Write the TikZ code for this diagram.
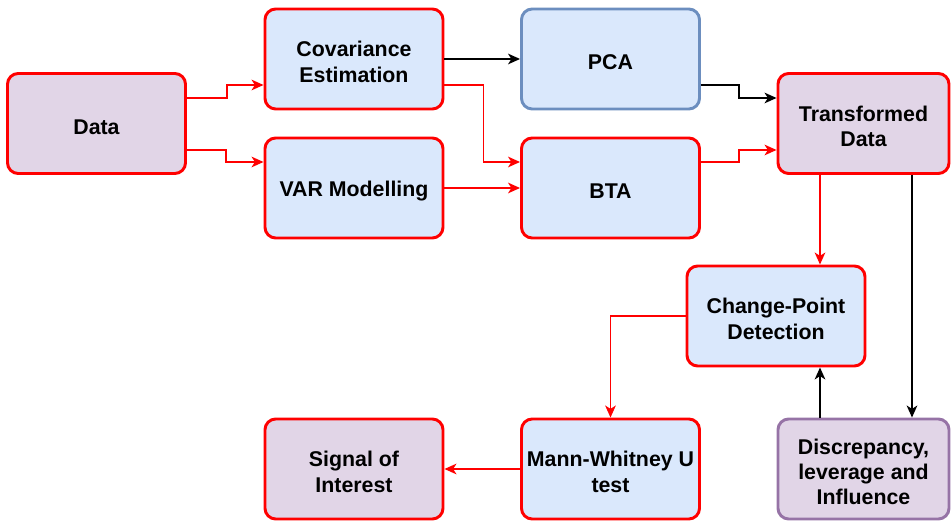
\documentclass[tikz,border=0pt]{standalone}
\usepackage{fontspec}
\setmainfont{Liberation Sans}
\usetikzlibrary{arrows.meta,calc}
\definecolor{bfill}{HTML}{DAE8FC}
\definecolor{pfill}{HTML}{E1D5E7}
\definecolor{bline}{HTML}{6C8EBF}
\definecolor{pline}{HTML}{9673A6}
\definecolor{rline}{HTML}{FF0000}
\newcommand{\tstrut}{\rule{0pt}{16pt}}
\tikzset{
  box/.style={draw=rline, line width=2.2pt, rounded corners=8pt, minimum width=178*0.75pt, minimum height=100*0.75pt,
    font=\fontsize{16}{19}\selectfont\bfseries, align=center, inner sep=0pt},
  bbox/.style={box, fill=bfill},
  pbox/.style={box, fill=pfill},
  rarr/.style={draw=rline, line width=1.1pt, -{Stealth[length=9pt,width=8pt,inset=2.5pt]}},
  karr/.style={draw=black, line width=1.1pt, -{Stealth[length=9pt,width=8pt,inset=2.5pt]}}
}
\begin{document}
\begin{tikzpicture}[x=0.75pt,y=-0.75pt]
\useasboundingbox (0,0) rectangle (951,523);
\node[pbox] (data) at (96.5,123.5) {\tstrut Data};
\node[bbox] (cov) at (354,59) {\tstrut Covariance\\Estimation};
\node[bbox] (var) at (354,188) {\tstrut VAR Modelling};
\node[bbox, draw=bline] (pca) at (610.5,59) {\tstrut PCA};
\node[bbox] (bta) at (610.5,188) {\tstrut BTA};
\node[pbox, minimum width=171*0.75pt] (trans) at (863.5,123.5) {\tstrut Transformed\\Data};
\node[bbox] (cpd) at (776,316) {\tstrut Change-Point\\Detection};
\node[pbox, draw=pline, minimum width=171*0.75pt] (disc) at (863.5,469) {\tstrut Discrepancy,\\leverage and\\Influence};
\node[bbox] (mwu) at (610.5,469) {\tstrut Mann-Whitney U\\test};
\node[pbox] (sig) at (354,469) {\tstrut Signal of\\Interest};
\coordinate (x1) at ($(cpd.north)+(44,0)$);
\coordinate (x2) at ($(disc.north)+(48.5,0)$);
\draw[rarr] ($(data.east)+(0,-25.5)$) -- ++(40,0) |- ($(cov.west)+(0,26)$);
\draw[rarr] ($(data.east)+(0,26.5)$) -- ++(39,0) |- ($(var.west)+(0,-26)$);
\draw[karr] (cov.east) -- (pca.west);
\draw[rarr] ($(cov.east)+(0,26)$) -- ++(39,0) |- ($(bta.west)+(0,-26)$);
\draw[rarr] (var.east) -- (bta.west);
\draw[karr] ($(pca.east)+(0,26)$) -- ++(38,0) |- ($(trans.west)+(0,-25.5)$);
\draw[rarr] ($(bta.east)+(0,-26)$) -- ++(38,0) |- ($(trans.west)+(0,26.5)$);
\draw[rarr] (trans.south -| x1) -- (x1);
\draw[karr] (trans.south -| x2) -- (disc.north -| x2);
\draw[karr] (disc.north -| x1) -- (cpd.south -| x1);
\draw[rarr] (cpd.west) -| (mwu.north);
\draw[rarr] (mwu.west) -- (sig.east);
\end{tikzpicture}
\end{document}
